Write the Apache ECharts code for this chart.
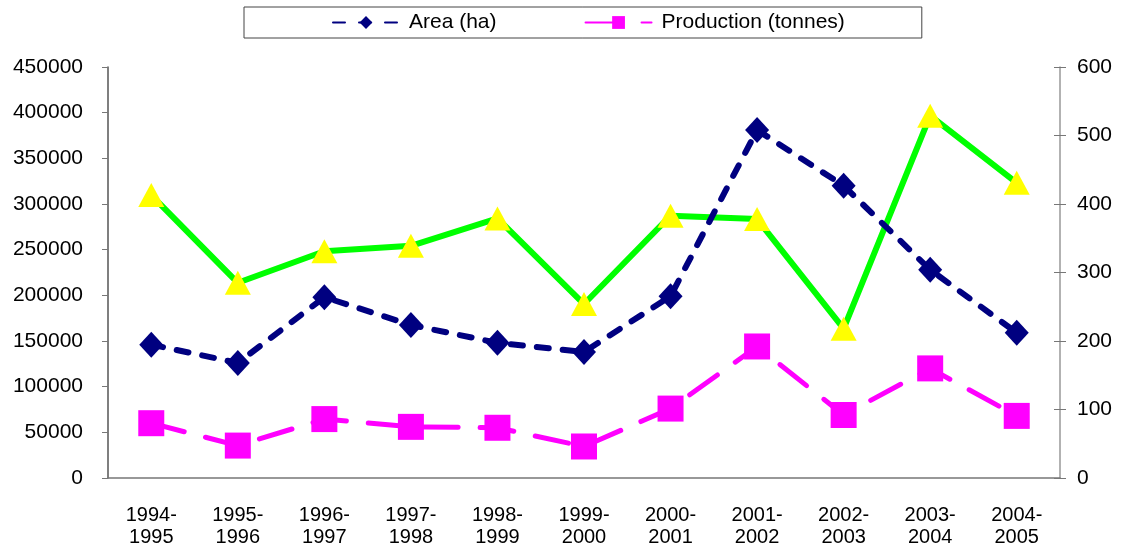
<!DOCTYPE html>
<html>
<head>
<meta charset="utf-8">
<script src="https://cdn.jsdelivr.net/npm/echarts@6/dist/echarts.min.js"></script>
<style>
  html, body { margin: 0; padding: 0; background: #fff; }
  #chart { width: 1131px; height: 556px; }
</style>
</head>
<body>
<div id="chart"></div>
<script>
var seasons = ['1994-\n1995', '1995-\n1996', '1996-\n1997', '1997-\n1998', '1998-\n1999', '1999-\n2000',
               '2000-\n2001', '2001-\n2002', '2002-\n2003', '2003-\n2004', '2004-\n2005'];
var area = [146000, 126000, 198000, 167500, 148000, 138000, 199000, 381000, 320000, 228000, 159000];
var production = [60000, 35500, 64500, 56000, 55000, 34500, 76000, 144000, 69000, 120000, 68000];
var third = [413, 285, 331, 339, 379, 254, 383, 378, 218, 529, 431];

var font = 'Liberation Sans, Arial, sans-serif';
var axisGrey = '#777';

var myChart = echarts.init(document.getElementById('chart'));

var option = {
    animation: false,
    textStyle: { fontFamily: font },
    legend: {
        left: 244,
        top: 7,
        padding: [5, 77, 5, 88],
        itemGap: 88,
        itemWidth: 66,
        itemHeight: 16,
        borderColor: '#444',
        borderWidth: 1,
        textStyle: { fontSize: 21, color: '#000', fontFamily: font, padding: [0, 0, 0, 5] },
        data: ['Area (ha)', 'Production (tonnes)']
    },
    grid: { left: 108, right: 71, top: 67, bottom: 78 },
    xAxis: {
        type: 'category',
        data: seasons,
        boundaryGap: true,
        axisLine: { lineStyle: { color: axisGrey, width: 1.5 } },
        axisTick: { length: 6, lineStyle: { color: axisGrey } },
        axisLabel: { color: '#000', fontSize: 20, lineHeight: 22, margin: 26, fontFamily: font }
    },
    yAxis: [{
        type: 'value',
        min: 0,
        max: 450000,
        interval: 50000,
        splitLine: { show: false },
        axisLine: { show: true, lineStyle: { color: '#555', width: 1.5 } },
        axisTick: { show: true, length: 6, lineStyle: { color: axisGrey } },
        axisLabel: {
            color: '#000', fontSize: 21, margin: 25, fontFamily: font,
            formatter: function (v) { return String(v); }
        }
    }, {
        type: 'value',
        position: 'right',
        min: 0,
        max: 600,
        interval: 100,
        splitLine: { show: false },
        axisLine: { show: true, lineStyle: { color: '#999', width: 1.5 } },
        axisTick: { show: true, length: 6, lineStyle: { color: axisGrey } },
        axisLabel: { color: '#000', fontSize: 21, margin: 17, fontFamily: font }
    }, {
        // inner half of the cross ticks on the right axis
        type: 'value',
        position: 'right',
        min: 0,
        max: 600,
        interval: 100,
        splitLine: { show: false },
        axisLine: { show: false },
        axisTick: { show: true, inside: true, length: 6, lineStyle: { color: axisGrey } },
        axisLabel: { show: false }
    }],
    series: [{
        name: 'Yield',
        type: 'line',
        yAxisIndex: 1,
        data: third,
        symbol: 'triangle',
        symbolSize: [26, 24],
        lineStyle: { color: '#00ff00', width: 6 },
        itemStyle: { color: '#ffff00' },
        z: 2
    }, {
        name: 'Area (ha)',
        type: 'line',
        data: area,
        symbol: 'diamond',
        symbolSize: [24, 26],
        lineStyle: { color: '#000080', width: 6, type: [12, 14], cap: 'round' },
        itemStyle: { color: '#000080' },
        z: 3
    }, {
        name: 'Production (tonnes)',
        type: 'line',
        data: production,
        symbol: 'rect',
        symbolSize: 26,
        lineStyle: { color: '#ff00ff', width: 5, type: [34, 22], cap: 'round' },
        itemStyle: { color: '#ff00ff' },
        z: 3
    }]
};

myChart.setOption(option);
</script>
</body>
</html>
